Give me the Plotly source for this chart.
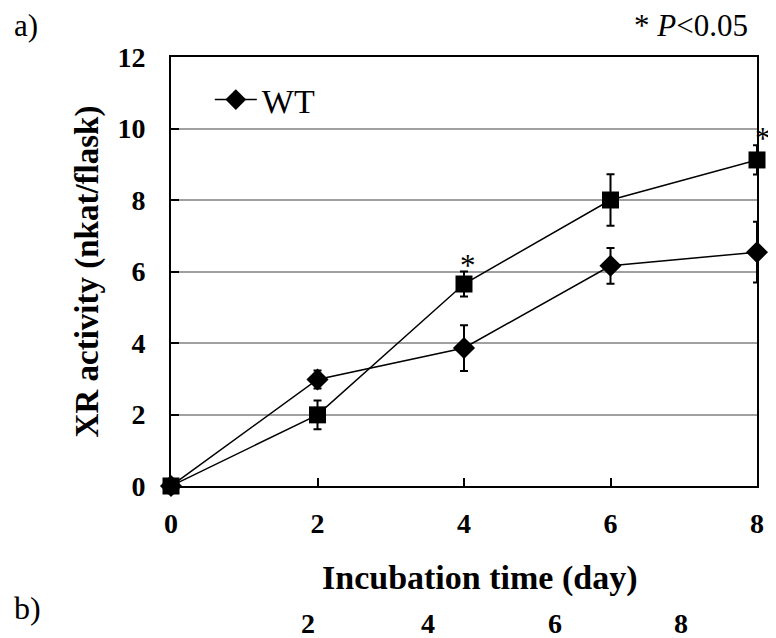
import plotly.graph_objects as go

days = [0, 2, 4, 6, 8]
wt_mean = [0, 2.98, 3.86, 6.16, 6.54]
wt_err = [0, 0.25, 0.64, 0.5, 0.85]
mut_mean = [0, 1.99, 5.65, 8.0, 9.12]
mut_err = [0, 0.4, 0.35, 0.72, 0.41]
sig_days = [4, 8]
b_tick_labels = ["2", "4", "6", "8"]

FONT = "Liberation Serif"

# reference-pixel helpers for plot area (x: 171..760, y: 486..57)
def px(x):
    return (x - 171) / 589

def py(y):
    return (486 - y) / 429

fig = go.Figure()
fig.add_trace(go.Scatter(
    x=days, y=mut_mean, mode="lines+markers", name="mutant", showlegend=False,
    line=dict(color="black", width=1.5),
    marker=dict(symbol="square", size=17, color="black"),
    error_y=dict(type="data", array=mut_err, color="black", thickness=2, width=4),
    cliponaxis=False,
))
fig.add_trace(go.Scatter(
    x=days, y=wt_mean, mode="lines+markers", name="WT",
    line=dict(color="black", width=1.5),
    marker=dict(symbol="diamond", size=17, color="black"),
    error_y=dict(type="data", array=wt_err, color="black", thickness=2, width=4),
    cliponaxis=False,
))

# significance asterisks
for d in sig_days:
    i = days.index(d)
    fig.add_annotation(x=d, y=mut_mean[i] + mut_err[i], text="*", showarrow=False,
                       xshift=6 if d == 8 else 4, yshift=-13, yanchor="bottom",
                       font=dict(family=FONT, size=31, color="black"))

fig.add_annotation(xref="paper", yref="paper", x=px(11), y=py(25), text="a)", showarrow=False,
                   xanchor="left", yanchor="middle",
                   font=dict(family=FONT, size=31, color="black"))
fig.add_annotation(xref="paper", yref="paper", x=px(753), y=py(25), text="* <i>P</i><0.05", showarrow=False,
                   xanchor="right", yanchor="middle",
                   font=dict(family=FONT, size=31, color="black"))
fig.add_annotation(xref="paper", yref="paper", x=px(11), y=py(608), text="b)", showarrow=False,
                   xanchor="left", yanchor="middle", font=dict(family=FONT, size=32, color="black"))
fig.add_annotation(xref="paper", yref="paper", x=px(481), y=py(578), text="<b>Incubation time (day)</b>",
                   showarrow=False, xanchor="center", yanchor="middle",
                   font=dict(family=FONT, size=34, color="black"))

b_positions = [309, 429, 557, 684]
for lab, p in zip(b_tick_labels, b_positions):
    fig.add_annotation(xref="paper", yref="paper", x=px(p), y=py(623),
                       text="<b>" + lab + "</b>", showarrow=False, xanchor="center", yanchor="middle",
                       font=dict(family=FONT, size=28, color="black"))

fig.update_layout(
    width=768, height=630,
    margin=dict(l=163, r=16, t=49, b=152),
    paper_bgcolor="white", plot_bgcolor="white",
    font=dict(family=FONT, color="black"),
    legend=dict(x=px(210), y=py(100), xanchor="left", yanchor="middle",
                bgcolor="rgba(0,0,0,0)", font=dict(family=FONT, size=34, color="black"),
                itemwidth=42),
)
fig.update_xaxes(
    range=[0, 8], tickvals=[0, 2, 4, 6, 8], ticktext=["<b>0</b>", "<b>2</b>", "<b>4</b>", "<b>6</b>", "<b>8</b>"],
    ticks="inside", ticklen=8, tickwidth=2, tickcolor="black",
    showline=True, linecolor="black", linewidth=2, mirror=True,
    showgrid=False, zeroline=False,
    tickfont=dict(family=FONT, size=28, color="black"),
    ticklabelstandoff=11,
)
fig.update_yaxes(
    range=[0, 12], tickvals=[0, 2, 4, 6, 8, 10, 12],
    ticktext=["<b>%d</b>" % v for v in [0, 2, 4, 6, 8, 10, 12]],
    ticks="inside", ticklen=8, tickwidth=2, tickcolor="black",
    showline=True, linecolor="black", linewidth=2, mirror=True,
    showgrid=True, gridcolor="#a0a0a0", gridwidth=2, zeroline=False,
    tickfont=dict(family=FONT, size=28, color="black"),
    ticklabelstandoff=18,
    title=dict(text="<b>XR activity (nkat/flask)</b>", font=dict(family=FONT, size=33, color="black"), standoff=9),
)

fig.write_html("out.html")
